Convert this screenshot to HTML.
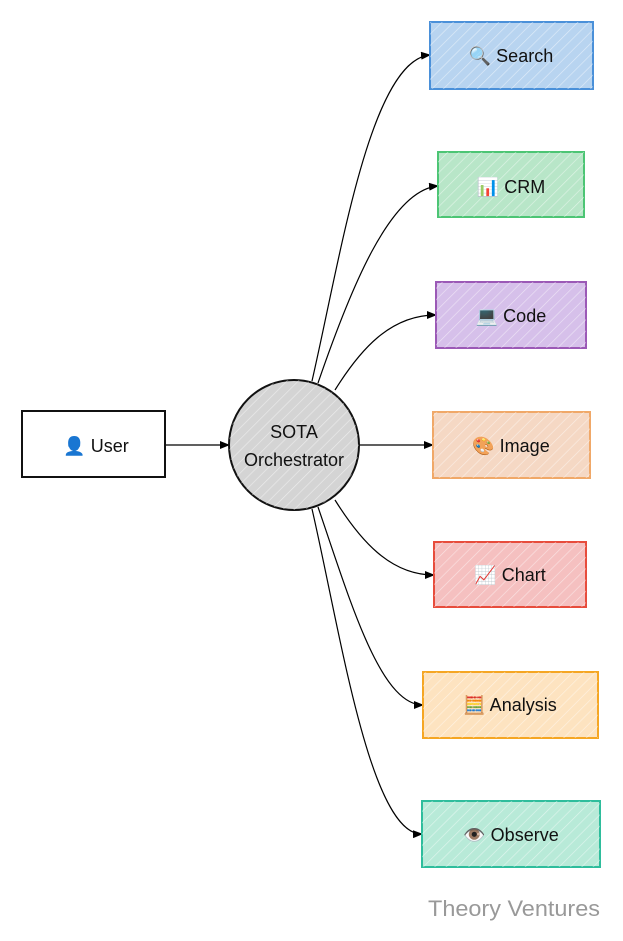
<!DOCTYPE html>
<html><head><meta charset="utf-8"><style>
html,body{margin:0;padding:0;background:#fff;}
svg{display:block;font-family:"Liberation Sans","DejaVu Sans",sans-serif;}
</style></head><body>
<svg width="623" height="941" viewBox="0 0 623 941" xmlns="http://www.w3.org/2000/svg">
<defs>
<pattern id="h" width="8" height="8" patternUnits="userSpaceOnUse" patternTransform="rotate(45)">
<line x1="0" y1="0" x2="0" y2="8" stroke="#fff" stroke-width="1.3" stroke-opacity="0.55"/>
</pattern>
<marker id="a" markerWidth="10" markerHeight="8" refX="9" refY="4" orient="auto" markerUnits="userSpaceOnUse">
<path d="M0,0 L10,4 L0,8 z" fill="#000"/>
</marker>
</defs>
<g fill="none" stroke="#000" stroke-width="1.2" marker-end="url(#a)">
<path d="M166,445 L229,445"/>
<path d="M312,381 C340,260 370,60 430,55"/>
<path d="M318,383 C350,290 390,190 438,186"/>
<path d="M335,390 C360,350 390,315 436,315"/>
<path d="M359,445 L433,445"/>
<path d="M335,500 C360,540 390,575 434,575"/>
<path d="M318,507 C350,600 380,705 423,705"/>
<path d="M312,509 C340,630 370,835 422,834"/>
</g>
<g stroke-width="2">
<rect x="22" y="411" width="143" height="66" fill="#fff" stroke="#111"/>
<circle cx="294" cy="445" r="65" fill="#d4d4d4" stroke="#111"/>
<circle cx="294" cy="445" r="65" fill="url(#h)" stroke="none"/>
<rect x="430" y="22" width="163" height="67" fill="#b8d4f0" stroke="#4a90d9"/>
<rect x="438" y="152" width="146" height="65" fill="#b8e6c8" stroke="#4cc574"/>
<rect x="436" y="282" width="150" height="66" fill="#d6c0ea" stroke="#9b59b6"/>
<rect x="433" y="412" width="157" height="66" fill="#f5d8c4" stroke="#f0a868"/>
<rect x="434" y="542" width="152" height="65" fill="#f5c0c0" stroke="#e74c3c"/>
<rect x="423" y="672" width="175" height="66" fill="#fde3c0" stroke="#f5a623"/>
<rect x="422" y="801" width="178" height="66" fill="#b8ead8" stroke="#2ebd9c"/>
</g>
<g fill="url(#h)">
<rect x="430" y="22" width="163" height="67"/>
<rect x="438" y="152" width="146" height="65"/>
<rect x="436" y="282" width="150" height="66"/>
<rect x="433" y="412" width="157" height="66"/>
<rect x="434" y="542" width="152" height="65"/>
<rect x="423" y="672" width="175" height="66"/>
<rect x="422" y="801" width="178" height="66"/>
</g>
<g font-size="18" fill="#111" text-anchor="middle">
<text x="96" y="452">👤 User</text>
<text x="294" y="438">SOTA</text>
<text x="294" y="466">Orchestrator</text>
<text x="511" y="62">🔍 Search</text>
<text x="511" y="193">📊 CRM</text>
<text x="511" y="322">💻 Code</text>
<text x="511" y="452">🎨 Image</text>
<text x="510" y="581">📈 Chart</text>
<text x="510" y="711">🧮 Analysis</text>
<text x="511" y="841">👁️ Observe</text>
</g>
<text x="428" y="916" font-size="22" fill="#999" textLength="172" lengthAdjust="spacingAndGlyphs">Theory Ventures</text>
</svg>
</body></html>
